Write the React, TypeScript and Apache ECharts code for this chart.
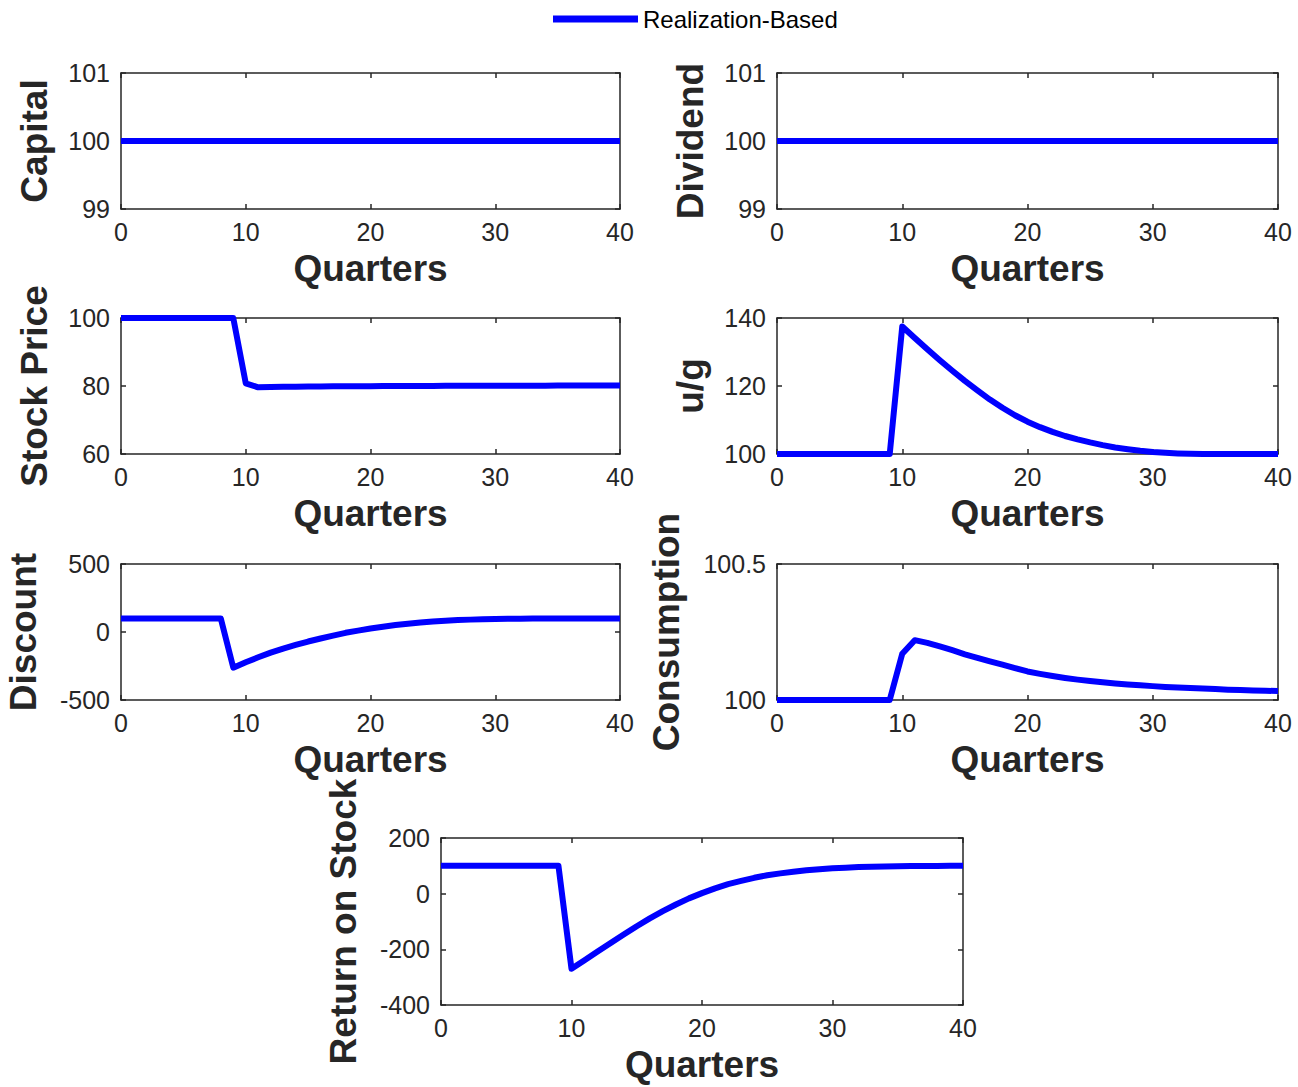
import React, { useEffect, useRef } from "react";
import * as echarts from "echarts";

// Quarter index shared by every panel
const quarters: number[] = Array.from({ length: 41 }, (_, i) => i);

const capital = [
  100, 100, 100, 100, 100, 100, 100, 100, 100, 100,
  100, 100, 100, 100, 100, 100, 100, 100, 100, 100,
  100, 100, 100, 100, 100, 100, 100, 100, 100, 100,
  100, 100, 100, 100, 100, 100, 100, 100, 100, 100, 100,
];

const dividend = [
  100, 100, 100, 100, 100, 100, 100, 100, 100, 100,
  100, 100, 100, 100, 100, 100, 100, 100, 100, 100,
  100, 100, 100, 100, 100, 100, 100, 100, 100, 100,
  100, 100, 100, 100, 100, 100, 100, 100, 100, 100, 100,
];

const stockPrice = [
  100, 100, 100, 100, 100, 100, 100, 100, 100, 100,
  80.8, 79.6, 79.7, 79.75, 79.8, 79.84, 79.87, 79.9, 79.92, 79.94,
  79.96, 79.98, 80.0, 80.01, 80.02, 80.03, 80.04, 80.05, 80.06, 80.07,
  80.08, 80.09, 80.1, 80.1, 80.11, 80.12, 80.12, 80.13, 80.13, 80.14, 80.14,
];

const uOverG = [
  100, 100, 100, 100, 100, 100, 100, 100, 100, 100,
  137.5, 134.1, 130.8, 127.6, 124.5, 121.5, 118.7, 116.0, 113.6, 111.4,
  109.5, 107.9, 106.5, 105.3, 104.3, 103.4, 102.6, 101.9, 101.4, 100.95,
  100.6, 100.35, 100.18, 100.08, 100.03, 100.01, 100, 100, 100, 100, 100,
];

const discount = [
  100, 100, 100, 100, 100, 100, 100, 100, 100,
  -262, -222, -186, -152, -122, -95, -70, -48, -27, -6,
  10, 26, 39, 51, 61, 70, 77, 83, 87.5, 91,
  93.5, 95.5, 97, 98, 98.7, 99.2, 99.5, 99.7, 99.8, 99.9, 99.95, 100,
];

const consumption = [
  100, 100, 100, 100, 100, 100, 100, 100, 100, 100,
  100.17, 100.22, 100.21, 100.197, 100.183, 100.168, 100.155, 100.142, 100.13, 100.117,
  100.105, 100.096, 100.088, 100.081, 100.075, 100.07, 100.065, 100.061, 100.057, 100.054,
  100.051, 100.048, 100.046, 100.044, 100.042, 100.04, 100.038, 100.037, 100.035, 100.034, 100.033,
];

const returnOnStock = [
  100, 100, 100, 100, 100, 100, 100, 100, 100, 100,
  -270, -239, -208, -177, -147, -117, -89, -63, -39, -17,
  2, 19, 34, 46, 57, 66, 73, 79, 84, 88,
  91, 93.5, 95.5, 97, 98, 98.7, 99.2, 99.5, 99.7, 99.9, 100,
];

const seriesName = "Realization-Based";
const xTitle = "Quarters";

interface Panel {
  title: string;
  values: number[];
  min: number;
  max: number;
  interval: number;
  box: { left: number; top: number; width: number; height: number };
  nameGap: number;
}

const panels: Panel[] = [
  { title: "Capital", values: capital, min: 99, max: 101, interval: 1,
    box: { left: 121, top: 73, width: 499, height: 136 }, nameGap: 68 },
  { title: "Dividend", values: dividend, min: 99, max: 101, interval: 1,
    box: { left: 777, top: 73, width: 501, height: 136 }, nameGap: 68 },
  { title: "Stock Price", values: stockPrice, min: 60, max: 100, interval: 20,
    box: { left: 121, top: 318, width: 499, height: 136 }, nameGap: 68 },
  { title: "u/g", values: uOverG, min: 100, max: 140, interval: 20,
    box: { left: 777, top: 318, width: 501, height: 136 }, nameGap: 68 },
  { title: "Discount", values: discount, min: -500, max: 500, interval: 500,
    box: { left: 121, top: 564, width: 499, height: 136 }, nameGap: 79 },
  { title: "Consumption", values: consumption, min: 100, max: 100.5, interval: 0.5,
    box: { left: 777, top: 564, width: 501, height: 136 }, nameGap: 92 },
  { title: "Return on Stock", values: returnOnStock, min: -400, max: 200, interval: 200,
    box: { left: 441, top: 838, width: 522, height: 167 }, nameGap: 79 },
];

const FONT = "'Liberation Sans', Arial, Helvetica, sans-serif";
const AXIS_COLOR = "#262626";
const LINE_COLOR = "#0000ff";

function buildOption() {
  const grid: any[] = [];
  const xAxis: any[] = [];
  const yAxis: any[] = [];
  const series: any[] = [];

  const axisLine = { show: true, onZero: false, lineStyle: { color: AXIS_COLOR, width: 1.5 } };
  const tick = { show: true, inside: true, length: 5, lineStyle: { color: AXIS_COLOR, width: 1.5 } };
  const tickLabel = { color: AXIS_COLOR, fontSize: 25, fontFamily: FONT };
  const titleStyle = { color: AXIS_COLOR, fontSize: 37, fontWeight: "bold", fontFamily: FONT };

  panels.forEach((p, i) => {
    grid.push({ ...p.box, containLabel: false });
    const xBase = { type: "value", gridIndex: i, min: 0, max: 40, interval: 10,
      splitLine: { show: false }, axisLine, axisTick: tick };
    const yBase = { type: "value", gridIndex: i, min: p.min, max: p.max, interval: p.interval,
      splitLine: { show: false }, axisLine, axisTick: tick };
    // bottom x axis with labels, top copy for the closing box edge and ticks
    xAxis.push({ ...xBase, position: "bottom",
      axisLabel: { ...tickLabel, margin: 10 },
      name: xTitle, nameLocation: "middle", nameGap: 41, nameTextStyle: titleStyle });
    xAxis.push({ ...xBase, position: "top", axisLabel: { show: false } });
    // left y axis with labels, right copy for box edge and ticks
    yAxis.push({ ...yBase, position: "left",
      axisLabel: { ...tickLabel, margin: 11 },
      name: p.title, nameLocation: "middle", nameGap: p.nameGap, nameTextStyle: titleStyle });
    yAxis.push({ ...yBase, position: "right", axisLabel: { show: false } });

    series.push({
      name: seriesName,
      type: "line",
      xAxisIndex: i * 2,
      yAxisIndex: i * 2,
      data: quarters.map((q, k) => [q, p.values[k]]),
      showSymbol: false,
      symbol: "none",
      clip: false,
      lineStyle: { color: LINE_COLOR, width: 6, join: "round" },
      itemStyle: { color: LINE_COLOR },
      z: 3,
    });
  });

  return {
    animation: false,
    backgroundColor: "#ffffff",
    legend: {
      data: [{ name: seriesName, icon: "rect" }],
      left: 553,
      top: 7,
      padding: 0,
      itemWidth: 85,
      itemHeight: 7,
      itemGap: 0,
      textStyle: { color: "#000000", fontSize: 24, fontFamily: FONT, padding: [0, 0, 0, 0] },
    },
    grid,
    xAxis,
    yAxis,
    series,
  };
}

export default function App() {
  const ref = useRef<HTMLDivElement>(null);
  useEffect(() => {
    if (!ref.current) return;
    const chart = echarts.init(ref.current, undefined, { renderer: "svg" });
    chart.setOption(buildOption());
    return () => chart.dispose();
  }, []);
  return (
    <div
      ref={ref}
      style={{ position: "absolute", left: 0, top: 0, width: 1298, height: 1087, background: "#fff" }}
    />
  );
}
